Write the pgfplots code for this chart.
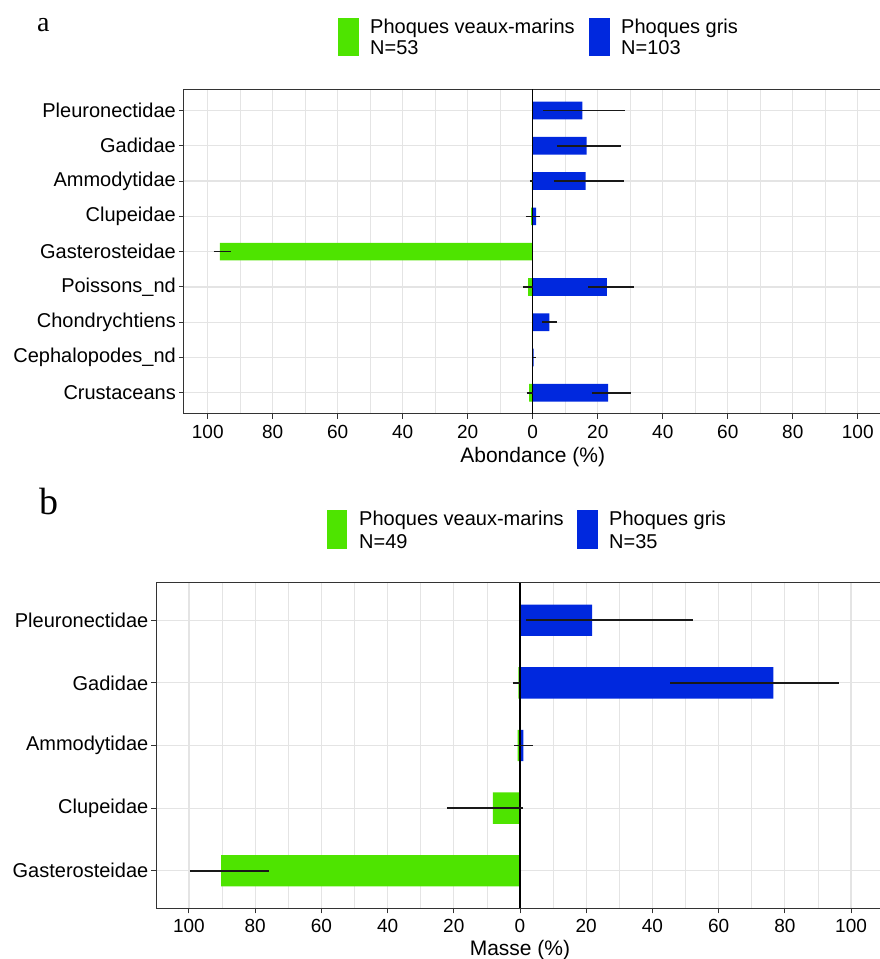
\documentclass[border=0pt]{standalone}
\usepackage{pgfplots}
\pgfplotsset{compat=1.18}
\usepackage{fontspec}
\setmainfont{Liberation Sans}
\newfontfamily\panelfont{Liberation Serif}
\definecolor{pvm}{RGB}{78,228,0}
\definecolor{pg}{RGB}{0,40,222}
\definecolor{gridc}{RGB}{228,228,228}
\definecolor{borderc}{RGB}{51,51,51}
\pgfplotsset{
  panel/.style={
    scale only axis, anchor=south west,
    xtick={-100,-80,...,100},
    xticklabels={100,80,60,40,20,0,20,40,60,80,100},
    minor xtick={-90,-70,-50,-30,-10,10,30,50,70,90},
    grid=both,
    major grid style={gridc, line width=1.2pt},
    minor grid style={gridc, line width=0.6pt},
    tick align=outside, xtick pos=left, ytick pos=left,
    major tick length=5pt, minor tick length=0pt,
    tick style={borderc, line width=1pt},
    axis line style={borderc, line width=1pt},
    xticklabel style={font=\fontsize{19}{19}\selectfont, inner sep=0pt, yshift=-6pt},
    yticklabel style={font=\fontsize{20}{20}\selectfont, inner sep=0pt, xshift=-3pt},
    xlabel style={font=\fontsize{21}{21}\selectfont, at={(axis description cs:0.5,0)}, anchor=base},
  },
  barA/.style={xbar, draw=none, bar width=0.5, bar shift=0pt, forget plot},
  errb/.style={black!90, line width=1.6pt, mark=none, forget plot},
  zline/.style={black, line width=1.1pt, mark=none, forget plot},
}
\newcommand{\eb}[3]{\addplot[errb] coordinates {(#1,#3) (#2,#3)};}
\begin{document}
\begin{tikzpicture}
\useasboundingbox (0,0) rectangle (880pt,959pt);
% ---------------- panel a ----------------
\begin{axis}[panel,
  at={(184pt,545pt)}, width=697.5pt, height=324.7pt,
  xmin=-107.3, xmax=107.3, ymin=0.4, ymax=9.6,
  ytick={1,...,9},
  yticklabels={Crustaceans,Cephalopodes\_nd,Chondrychtiens,Poissons\_nd,Gasterosteidae,Clupeidae,Ammodytidae,Gadidae,Pleuronectidae},
  xlabel={Abondance (\%)}, xlabel style={yshift=-49pt},
]
% Phoques veaux-marins
\addplot[barA, fill=pvm] coordinates {(-1.1,1) (-1.4,4) (-96.3,5) (-0.5,6) (-0.3,7)};
% Phoques gris
\addplot[barA, fill=pg] coordinates {(23.2,1) (0.3,2) (5.1,3) (22.8,4) (1.0,6) (16.3,7) (16.6,8) (15.3,9)};
\addplot[zline] coordinates {(0,0.4) (0,9.6)};
% error bars
\eb{-1.9}{0}{1}
\eb{18.2}{30.2}{1}
\eb{0}{1.0}{2}
\eb{2.9}{7.4}{3}
\eb{-2.9}{0}{4}
\eb{17.0}{31.0}{4}
\eb{-98.2}{-92.8}{5}
\eb{-2.1}{2.1}{6}
\eb{-0.9}{0}{7}
\eb{6.5}{28.0}{7}
\eb{7.4}{27.0}{8}
\eb{3.3}{28.4}{9}
\end{axis}
% ---------------- panel b ----------------
\begin{axis}[panel,
  at={(156.5pt,50.7pt)}, width=727pt, height=325.6pt,
  xmin=-109.8, xmax=109.8, ymin=0.4, ymax=5.6,
  ytick={1,...,5},
  yticklabels={Gasterosteidae,Clupeidae,Ammodytidae,Gadidae,Pleuronectidae},
  xlabel={Masse (\%)}, xlabel style={yshift=-47.7pt},
]
\addplot[barA, fill=pvm] coordinates {(-90.3,1) (-8.2,2) (-0.7,3) (-0.5,4)};
\addplot[barA, fill=pg] coordinates {(1.0,3) (76.5,4) (21.8,5)};
\addplot[zline] coordinates {(0,0.4) (0,5.6)};
\eb{-99.7}{-75.7}{1}
\eb{-22.1}{1.0}{2}
\eb{-1.7}{3.8}{3}
\eb{-2.0}{0}{4}
\eb{45.4}{96.5}{4}
\eb{1.8}{52.3}{5}
\end{axis}
% ---------------- legends ----------------
\fill[pvm] (338.4pt,903.3pt) rectangle (359.2pt,941.3pt);
\fill[pg]  (589.2pt,903.3pt) rectangle (610pt,941.3pt);
\node[anchor=base west, inner sep=0pt, font=\fontsize{20}{20}\selectfont] at (370pt,925.7pt) {Phoques veaux-marins};
\node[anchor=base west, inner sep=0pt, font=\fontsize{20}{20}\selectfont] at (370pt,904pt) {N=53};
\node[anchor=base west, inner sep=0pt, font=\fontsize{20}{20}\selectfont] at (621pt,925.7pt) {Phoques gris};
\node[anchor=base west, inner sep=0pt, font=\fontsize{20}{20}\selectfont] at (621pt,904pt) {N=103};
\fill[pvm] (326.5pt,410pt) rectangle (347.3pt,449pt);
\fill[pg]  (576.6pt,410pt) rectangle (597.6pt,449pt);
\node[anchor=base west, inner sep=0pt, font=\fontsize{20}{20}\selectfont] at (359pt,433pt) {Phoques veaux-marins};
\node[anchor=base west, inner sep=0pt, font=\fontsize{20}{20}\selectfont] at (359pt,410.7pt) {N=49};
\node[anchor=base west, inner sep=0pt, font=\fontsize{20}{20}\selectfont] at (609pt,433pt) {Phoques gris};
\node[anchor=base west, inner sep=0pt, font=\fontsize{20}{20}\selectfont] at (609pt,410.7pt) {N=35};
% panel letters
\node[anchor=base west, inner sep=0pt, font=\panelfont\fontsize{28}{28}\selectfont] at (37pt,927pt) {a};
\node[anchor=base west, inner sep=0pt, font=\panelfont\fontsize{38}{38}\selectfont] at (39pt,444pt) {b};
\end{tikzpicture}
\end{document}
